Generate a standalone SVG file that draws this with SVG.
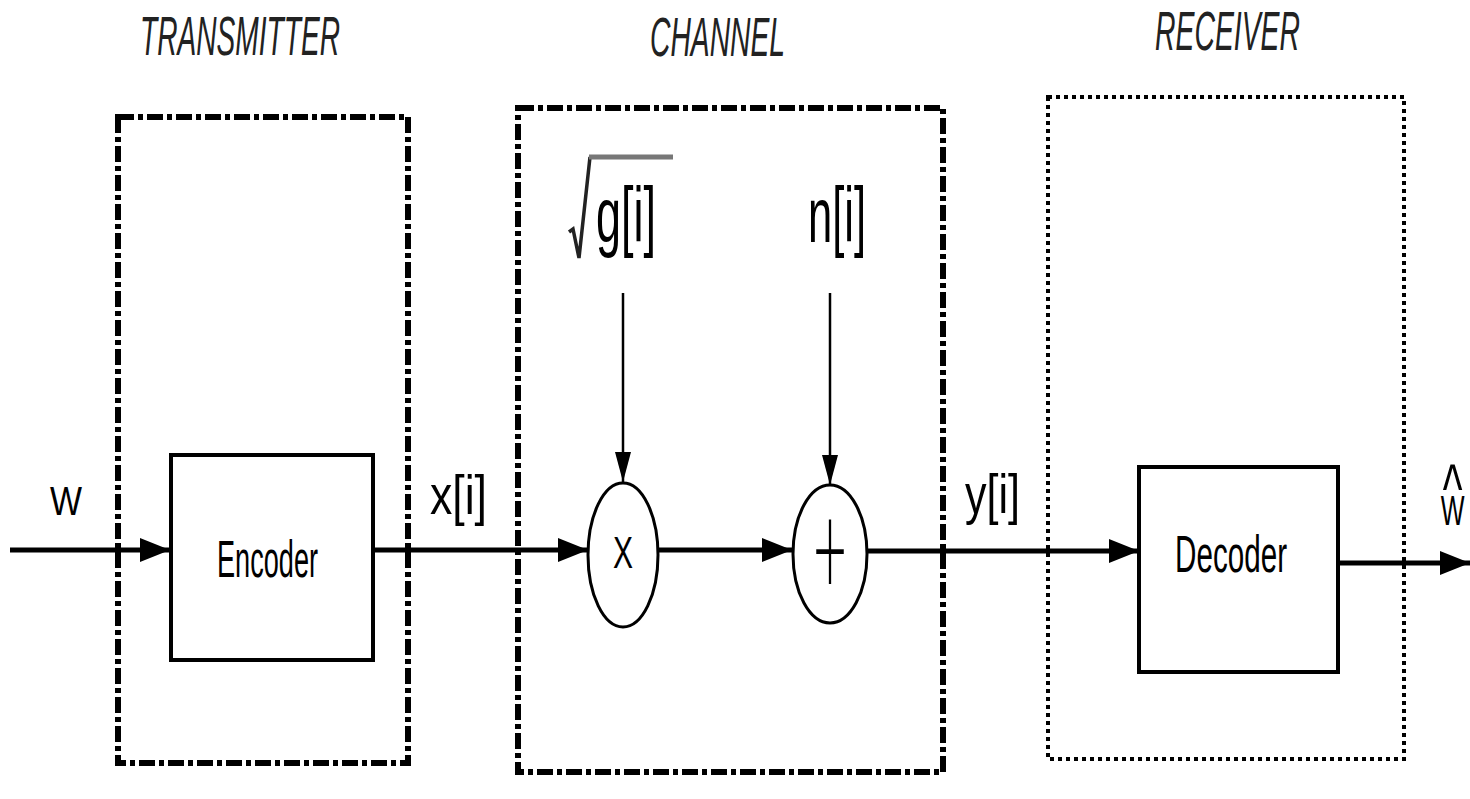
<svg xmlns="http://www.w3.org/2000/svg" width="1470" height="799" viewBox="0 0 1470 799">
<style>
  .t { font-family: "Liberation Sans", Arial, sans-serif; fill: #000; }
  .ti { font-style: italic; font-size: 56px; fill: #222; }
  .frame { fill: none; stroke: #000; }
  .tx { stroke-width: 6; stroke-dasharray: 16 4 5 4; }
  .rx { stroke-width: 4; stroke-dasharray: 4 4; }
  .blk { fill: #fff; stroke: #000; stroke-width: 4; }
  .op { fill: #fff; stroke: #000; stroke-width: 3; }
  .wire { fill: none; stroke: #000; stroke-width: 5; }
  .vwire { fill: none; stroke: #000; stroke-width: 2.5; }
</style>
<defs>
  <marker id="ah" markerUnits="userSpaceOnUse" markerWidth="30" markerHeight="28" refX="30" refY="14" orient="auto" overflow="visible">
    <path d="M0,2 L30,14 L0,26 Z" fill="#000"/>
  </marker>
  <marker id="av" markerUnits="userSpaceOnUse" markerWidth="30" markerHeight="18" refX="30" refY="9" orient="auto" overflow="visible">
    <path d="M0,1 L30,9 L0,17 Z" fill="#000"/>
  </marker>
</defs>
<rect width="1470" height="799" fill="#fff"/>

<g id="transmitter">
  <rect class="frame tx" x="118" y="117" width="290" height="646"/>
  <text class="t ti" x="140" y="55" textLength="200" lengthAdjust="spacingAndGlyphs">TRANSMITTER</text>
</g>
<g id="channel">
  <rect class="frame tx" x="518" y="108" width="425" height="664"/>
  <text class="t ti" x="650" y="56" textLength="135" lengthAdjust="spacingAndGlyphs">CHANNEL</text>
</g>
<g id="receiver">
  <rect class="frame rx" x="1048" y="97" width="356" height="662"/>
  <text class="t ti" x="1155" y="50" textLength="145" lengthAdjust="spacingAndGlyphs">RECEIVER</text>
</g>

<g id="connectors">
  <line class="wire" x1="10" y1="550" x2="170" y2="550" marker-end="url(#ah)"/>
  <line class="wire" x1="373" y1="550" x2="588" y2="550" marker-end="url(#ah)"/>
  <line class="wire" x1="658" y1="550" x2="792" y2="550" marker-end="url(#ah)"/>
  <line class="wire" x1="867" y1="551" x2="1139" y2="551" marker-end="url(#ah)"/>
  <line class="wire" x1="1338" y1="563" x2="1470" y2="563" marker-end="url(#ah)"/>
  <line class="vwire" x1="623" y1="293" x2="623" y2="482" marker-end="url(#av)"/>
  <line class="vwire" x1="830" y1="293" x2="830" y2="485" marker-end="url(#av)"/>
</g>

<g id="input-w">
  <text class="t" x="50" y="515" font-size="40" textLength="32" lengthAdjust="spacingAndGlyphs">W</text>
</g>
<g id="encoder">
  <rect class="blk" x="171" y="455" width="202" height="205"/>
  <text class="t" x="217" y="577" font-size="52" textLength="101" lengthAdjust="spacingAndGlyphs">Encoder</text>
</g>
<g id="signal-x">
  <text class="t" x="430" y="514" font-size="56" textLength="57" lengthAdjust="spacingAndGlyphs">x[i]</text>
</g>
<g id="gain">
  <path d="M569,232 L573,229 L579,258 L590,157" fill="none" stroke="#222" stroke-width="3.5"/>
  <line x1="589" y1="157" x2="673" y2="157" stroke="#777" stroke-width="5"/>
  <text class="t" x="596" y="242" font-size="78" textLength="60" lengthAdjust="spacingAndGlyphs">g[i]</text>
</g>
<g id="noise">
  <text class="t" x="808" y="242" font-size="78" textLength="58" lengthAdjust="spacingAndGlyphs">n[i]</text>
</g>
<g id="multiplier">
  <ellipse class="op" cx="623" cy="555" rx="35" ry="72"/>
  <text class="t" x="613" y="568" font-size="44" textLength="20" lengthAdjust="spacingAndGlyphs">X</text>
</g>
<g id="adder">
  <ellipse class="op" cx="830" cy="554" rx="37" ry="69"/>
  <text x="830" y="0" text-anchor="middle" transform="translate(0,596) scale(1,1.9)" font-family="Lato, 'Liberation Sans', sans-serif" font-weight="300" font-size="70" textLength="34" lengthAdjust="spacingAndGlyphs">+</text>
</g>
<g id="signal-y">
  <text class="t" x="965" y="513" font-size="56" textLength="55" lengthAdjust="spacingAndGlyphs">y[i]</text>
</g>
<g id="decoder">
  <rect class="blk" x="1139" y="467" width="199" height="205"/>
  <text class="t" x="1175" y="572" font-size="52" textLength="112" lengthAdjust="spacingAndGlyphs">Decoder</text>
</g>
<g id="output-w">
  <text class="t" transform="translate(1440,0) scale(0.6,1)" text-anchor="middle"><tspan x="21" y="513" font-size="70">^</tspan><tspan x="21" y="525" font-size="42">W</tspan></text>
</g>
</svg>
